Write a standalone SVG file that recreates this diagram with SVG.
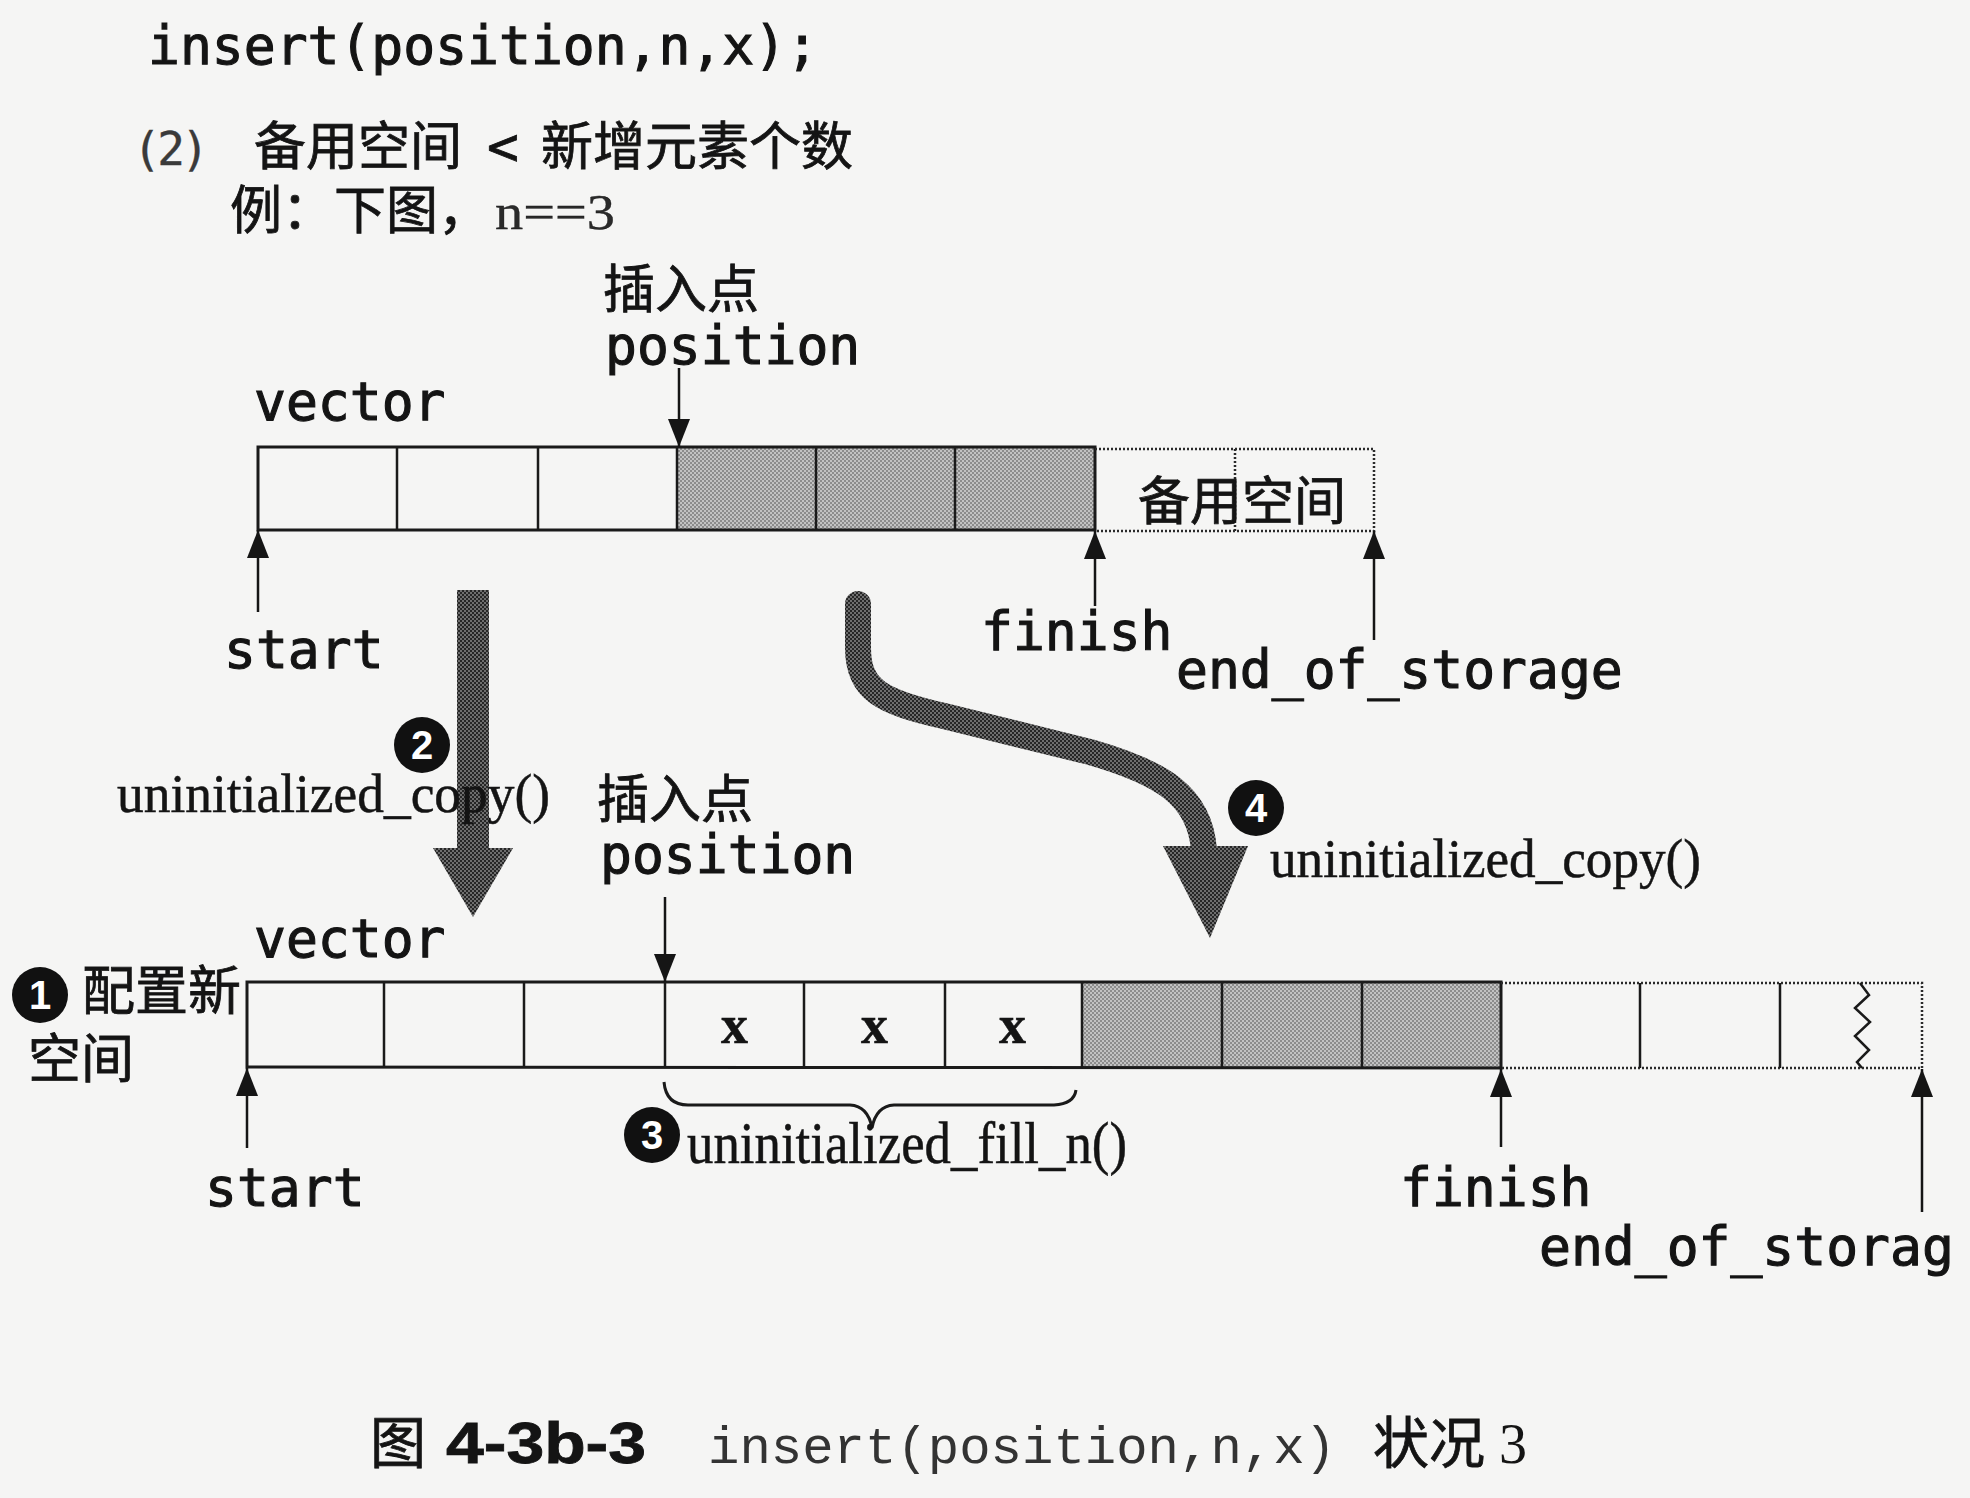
<svg xmlns="http://www.w3.org/2000/svg" width="1970" height="1498" viewBox="0 0 1970 1498">
<style>
.mono{font-family:"DejaVu Sans Mono","Liberation Mono",monospace;font-size:53px;fill:#141414;stroke:#141414;stroke-width:1.1}
.cjk{font-family:"Noto Sans CJK SC","Noto Sans CJK TC",sans-serif;fill:#141414;stroke:#141414;stroke-width:0.8}
.serif{font-family:"Liberation Serif","Times New Roman",serif;fill:#141414;stroke:#141414;stroke-width:0.5}
.num{font-family:"Liberation Sans",Arial,sans-serif;font-weight:bold;font-size:40px;fill:#ffffff;text-anchor:middle}
.badge{fill:#111111}
.box{fill:none;stroke:#1a1a1a;stroke-width:3}
.div{fill:none;stroke:#1a1a1a;stroke-width:2.5}
.dot{fill:none;stroke:#2a2a2a;stroke-width:2.5;stroke-dasharray:2 2}
.shade{fill:url(#screen)}
.thin{fill:none;stroke:#151515;stroke-width:2.5;marker-end:url(#ah)}
.big{fill:url(#hatch)}
</style>
<defs>
<pattern id="screen" width="4" height="4" patternUnits="userSpaceOnUse">
<rect width="4" height="4" fill="#c2c2c2"/>
<rect x="0" y="0" width="2" height="2" fill="#8c8c8c"/>
<rect x="2" y="2" width="2" height="2" fill="#8c8c8c"/>
</pattern>
<pattern id="hatch" width="4" height="4" patternUnits="userSpaceOnUse">
<rect width="4" height="4" fill="#6e6e6e"/>
<rect x="0" y="0" width="2" height="2" fill="#262626"/>
<rect x="2" y="2" width="2" height="2" fill="#262626"/>
</pattern>
<marker id="ah" viewBox="0 0 28 22" refX="28" refY="11" markerWidth="28" markerHeight="22" markerUnits="userSpaceOnUse" orient="auto">
<path d="M0,0 L28,11 L0,22 z" fill="#151515"/>
</marker>
</defs>

<rect width="1970" height="1498" fill="#f5f5f4"/>

<g id="heading">
<text class="mono" x="148" y="64">insert(position,n,x);</text>
<text class="cjk" font-size="52" y="165"><tspan x="133" font-family="DejaVu Sans Mono, monospace" font-size="46" fill="#3a3a3a" stroke="#3a3a3a" stroke-width="0.4" textLength="76">(2)</tspan><tspan x="254">备用空间</tspan><tspan x="487" font-family="DejaVu Sans Mono, monospace" font-size="53">&lt;</tspan><tspan x="541">新增元素个数</tspan></text>
<text class="cjk" font-size="52" y="229"><tspan x="230">例：下图，</tspan><tspan x="495" font-family="Liberation Serif, serif" font-size="50" fill="#2a2a2a" stroke-width="0.3" textLength="120" lengthAdjust="spacingAndGlyphs">n==3</tspan></text>
</g>

<g id="top-vector">
<text class="mono" x="254" y="420">vector</text>
<rect class="shade" x="677" y="447" width="418" height="83"/>
<line class="div" x1="397" y1="447" x2="397" y2="530"/>
<line class="div" x1="538" y1="447" x2="538" y2="530"/>
<line class="div" x1="677" y1="447" x2="677" y2="530"/>
<line class="div" x1="816" y1="447" x2="816" y2="530"/>
<line class="div" x1="955" y1="447" x2="955" y2="530"/>
<path class="box" d="M1095,447 L258,447 L258,530 L1095,530 Z"/>
<path class="dot" d="M1095,449 L1374,449 L1374,531 L1095,531"/>
<line class="dot" x1="1235" y1="449" x2="1235" y2="531"/>
<text class="cjk" font-size="52" x="1138" y="520">备用空间</text>
</g>

<g id="top-labels">
<text class="cjk" font-size="52" x="603" y="308">插入点</text>
<text class="mono" x="605" y="364">position</text>
<text class="mono" x="224" y="668">start</text>
<text class="mono" x="981" y="650">finish</text>
<text class="mono" x="1176" y="688">end_of_storage</text>
</g>

<g id="bottom-vector">
<text class="mono" x="254" y="957">vector</text>
<rect class="shade" x="1082" y="982" width="419" height="86"/>
<line class="div" x1="384" y1="982" x2="384" y2="1067"/>
<line class="div" x1="524" y1="982" x2="524" y2="1067"/>
<line class="div" x1="665" y1="982" x2="665" y2="1067"/>
<line class="div" x1="804" y1="982" x2="804" y2="1067"/>
<line class="div" x1="945" y1="982" x2="945" y2="1067"/>
<line class="div" x1="1082" y1="982" x2="1082" y2="1068"/>
<line class="div" x1="1222" y1="982" x2="1222" y2="1068"/>
<line class="div" x1="1362" y1="982" x2="1362" y2="1068"/>
<path class="box" d="M1501,982 L247,982 L247,1067 L1501,1068 Z"/>
<path class="dot" d="M1501,983 L1922,983 L1922,1068 L1501,1068"/>
<line class="div" x1="1640" y1="983" x2="1640" y2="1068" stroke-width="2"/>
<line class="div" x1="1780" y1="983" x2="1780" y2="1068" stroke-width="2"/>
<polyline class="div" points="1860,983 1869,995 1855,1008 1870,1022 1855,1036 1869,1050 1857,1062 1862,1068"/>
<text class="serif" font-size="54" font-weight="bold" x="721" y="1043">x</text>
<text class="serif" font-size="54" font-weight="bold" x="861" y="1043">x</text>
<text class="serif" font-size="54" font-weight="bold" x="999" y="1043">x</text>
</g>

<g id="bottom-labels">
<text class="cjk" font-size="52" x="597" y="818">插入点</text>
<text class="mono" x="600" y="873">position</text>
<text class="mono" x="205" y="1206">start</text>
<text class="mono" x="1400" y="1206">finish</text>
<text class="mono" x="1539" y="1265">end_of_storag</text>
</g>

<g id="step1">
<circle class="badge" cx="40" cy="995" r="28"/>
<text class="num" x="40" y="1009">1</text>
<text class="cjk" font-size="53" x="82" y="1010">配置新</text>
<text class="cjk" font-size="53" x="28" y="1078">空间</text>
</g>

<g id="connectors">
<line class="thin" x1="679" y1="368" x2="679" y2="447"/>
<line class="thin" x1="258" y1="612" x2="258" y2="530"/>
<line class="thin" x1="1095" y1="606" x2="1095" y2="531"/>
<line class="thin" x1="1374" y1="640" x2="1374" y2="531"/>
<line class="thin" x1="665" y1="897" x2="665" y2="982"/>
<line class="thin" x1="247" y1="1148" x2="247" y2="1068"/>
<line class="thin" x1="1501" y1="1147" x2="1501" y2="1069"/>
<line class="thin" x1="1922" y1="1212" x2="1922" y2="1069"/>
<g id="arrow-copy-front">
<rect class="big" x="457" y="590" width="32" height="260"/>
<polygon class="big" points="433,848 513,848 473,917"/>
</g>
<g id="arrow-copy-back">
<path d="M858,604 L858,648 C858,690 882,702 944,716 L1090,752 C1160,772 1200,795 1204,850" fill="none" stroke="url(#hatch)" stroke-width="26" stroke-linecap="round"/>
<polygon class="big" points="1163,846 1248,846 1210,938"/>
</g>
<path d="M664,1082 Q666,1105 688,1105 L850,1105 Q868,1106 872,1128 Q876,1106 894,1105 L1054,1105 Q1074,1104 1076,1090" fill="none" stroke="#1a1a1a" stroke-width="3"/>
</g>

<g id="step2">
<circle class="badge" cx="422" cy="745" r="28"/>
<text class="num" x="422" y="759">2</text>
<text class="serif" font-size="55" x="117" y="812" textLength="433" lengthAdjust="spacingAndGlyphs">uninitialized_copy()</text>
</g>

<g id="step3">
<circle class="badge" cx="652" cy="1135" r="28"/>
<text class="num" x="652" y="1149">3</text>
<text class="serif" font-size="60" x="687" y="1163" textLength="440" lengthAdjust="spacingAndGlyphs">uninitialized_fill_n()</text>
</g>

<g id="step4">
<circle class="badge" cx="1256" cy="808" r="28"/>
<text class="num" x="1256" y="822">4</text>
<text class="serif" font-size="55" x="1270" y="877" textLength="431" lengthAdjust="spacingAndGlyphs">uninitialized_copy()</text>
</g>

<g id="caption">
<text class="cjk" font-size="56" y="1463" stroke-width="0.5"><tspan x="370">图</tspan><tspan x="446" font-family="Liberation Sans, Arial, sans-serif" font-weight="bold" font-size="58" textLength="200" lengthAdjust="spacingAndGlyphs">4-3b-3</tspan><tspan x="708" font-family="Liberation Mono, monospace" font-size="52" fill="#333" stroke="none" textLength="628" lengthAdjust="spacingAndGlyphs">insert(position,n,x)</tspan><tspan x="1373">状况</tspan><tspan x="1499" font-family="Liberation Serif, serif" font-size="56" stroke="none">3</tspan></text>
</g>
</svg>
